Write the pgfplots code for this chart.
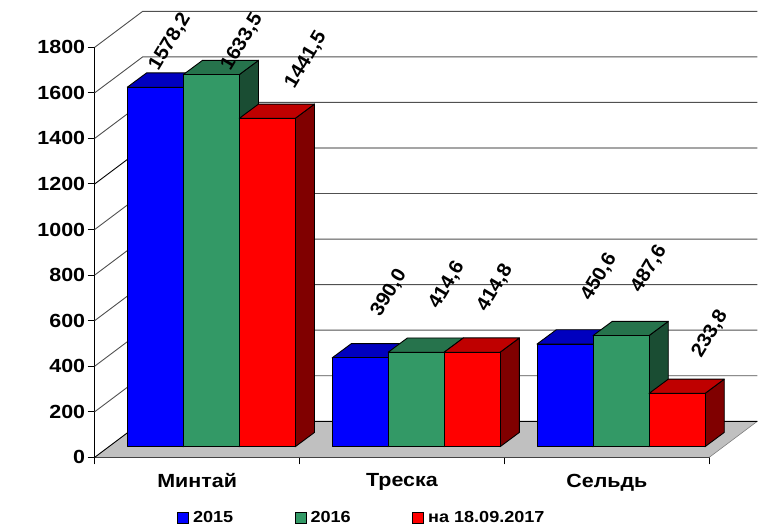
\documentclass[border=0pt]{standalone}
\usepackage{fontspec}
\setmainfont[FakeStretch=1.13]{Liberation Sans}
\newfontfamily\datafont[FakeStretch=1.05]{Liberation Sans}
\usepackage{pgfplots}
\pgfplotsset{compat=1.18}
\definecolor{cBlueF}{HTML}{0000FF}\definecolor{cBlueT}{HTML}{0000BF}\definecolor{cBlueS}{HTML}{000080}
\definecolor{cGreenF}{HTML}{339966}\definecolor{cGreenT}{HTML}{26734C}\definecolor{cGreenS}{HTML}{1A4D33}
\definecolor{cRedF}{HTML}{FF0000}\definecolor{cRedT}{HTML}{BF0000}\definecolor{cRedS}{HTML}{800000}
\definecolor{cFloor}{HTML}{C0C0C0}\definecolor{cGrid}{HTML}{505050}
% #1 left edge (category units), #2 value, #3 colour stem
\newcommand{\threedbar}[3]{%
  \pgfmathsetmacro{\xL}{#1}%
  \pgfmathsetmacro{\xR}{#1+0.2733}%
  \pgfmathsetmacro{\xLb}{\xL+0.0942}%
  \pgfmathsetmacro{\xRb}{\xR+0.0942}%
  \pgfmathsetmacro{\yB}{46.5}%
  \pgfmathsetmacro{\yT}{46.5+#2}%
  \pgfmathsetmacro{\yBb}{\yB+62.8}%
  \pgfmathsetmacro{\yTb}{\yT+62.8}%
  \addplot[forget plot,fill=#3S,draw=black,line width=0.9pt,line join=round] coordinates {(\xR,\yB) (\xRb,\yBb) (\xRb,\yTb) (\xR,\yT)} --cycle;
  \addplot[forget plot,fill=#3T,draw=black,line width=0.9pt,line join=round] coordinates {(\xL,\yT) (\xR,\yT) (\xRb,\yTb) (\xLb,\yTb)} --cycle;
  \addplot[forget plot,fill=#3F,draw=black,line width=0.9pt,line join=round] coordinates {(\xL,\yB) (\xR,\yB) (\xR,\yT) (\xL,\yT)} --cycle;
}
\begin{document}
\begin{tikzpicture}
\path[use as bounding box] (-94.7pt,-68.7pt) rectangle (669.3pt,457.3pt);
\begin{axis}[
  at={(0pt,0pt)},anchor=south west,
  scale only axis,width=614.6pt,height=410pt,
  xmin=0,xmax=3,ymin=0,ymax=1800,clip=false,
  axis x line=bottom,axis y line=left,
  axis line style={-,black,line width=1pt},
  tick align=outside,major tick length=7pt,
  tick style={black,line width=1pt},
  xtick={0,1,2,3},xticklabels={,,,},
  extra x ticks={0.5,1.5,2.5},
  extra x tick labels={Минтай,Треска,Сельдь},
  extra x tick style={major tick length=0pt,
    tick label style={font=\fontsize{19}{21}\selectfont\bfseries,yshift=-13pt}},
  ytick={0,200,400,600,800,1000,1200,1400,1600,1800},
  yticklabel style={font=\fontsize{19}{21}\selectfont\bfseries,xshift=1pt},
  /pgf/number format/assume math mode=true,
  /pgf/number format/1000 sep={},
  legend columns=3,
  legend cell align=left,
  legend style={draw=none,fill=none,at={(0.134,-0.148)},anchor=west,inner xsep=0pt,inner ysep=0pt,
    font=\fontsize{16}{18}\selectfont\bfseries,
    /tikz/every even column/.append style={column sep=57.5pt},
    nodes={inner xsep=4pt}},
]
% floor
\addplot[forget plot,fill=cFloor,draw=none] coordinates {(0,0) (3,0) (3.2343,158) (0.2343,158)} --cycle;
\addplot[forget plot,draw=gray,line width=0.6pt] coordinates {(3,0) (3.2343,158)};
\addplot[forget plot,draw=black,line width=0.9pt] coordinates {(0,0) (0.2343,158) (3.2343,158)};
% walls
\addplot[forget plot,draw=cGrid,line width=0.9pt] coordinates {(0,200) (0.2343,358) (3.2343,358)};
\addplot[forget plot,draw=cGrid,line width=0.9pt] coordinates {(0,400) (0.2343,558) (3.2343,558)};
\addplot[forget plot,draw=cGrid,line width=0.9pt] coordinates {(0,600) (0.2343,758) (3.2343,758)};
\addplot[forget plot,draw=cGrid,line width=0.9pt] coordinates {(0,800) (0.2343,958) (3.2343,958)};
\addplot[forget plot,draw=cGrid,line width=0.9pt] coordinates {(0,1000) (0.2343,1158) (3.2343,1158)};
\addplot[forget plot,draw=black,line width=0.9pt] coordinates {(0,1200) (0.2343,1358) (3.2343,1358)};
\addplot[forget plot,draw=cGrid,line width=0.9pt] coordinates {(0,1400) (0.2343,1558) (3.2343,1558)};
\addplot[forget plot,draw=cGrid,line width=0.9pt] coordinates {(0,1600) (0.2343,1758) (3.2343,1758)};
\addplot[forget plot,draw=cGrid,line width=0.9pt] coordinates {(0,1800) (0.2343,1958) (3.2343,1958)};
% bars
\threedbar{0.159}{1578.2}{cBlue}
\threedbar{0.4323}{1633.5}{cGreen}
\threedbar{0.7056}{1441.5}{cRed}
\threedbar{1.159}{390.0}{cBlue}
\threedbar{1.4323}{414.6}{cGreen}
\threedbar{1.7056}{414.8}{cRed}
\threedbar{2.159}{450.6}{cBlue}
\threedbar{2.4323}{487.6}{cGreen}
\threedbar{2.7056}{233.8}{cRed}
% legend
\addlegendimage{legend image code/.code={\draw[fill=cBlueF,draw=black,line width=0.8pt] (0pt,-5.5pt) rectangle (11pt,5.5pt);}}
\addlegendentry{2015}
\addlegendimage{legend image code/.code={\draw[fill=cGreenF,draw=black,line width=0.8pt] (0pt,-5.5pt) rectangle (11pt,5.5pt);}}
\addlegendentry{2016}
\addlegendimage{legend image code/.code={\draw[fill=cRedF,draw=black,line width=0.8pt] (0pt,-5.5pt) rectangle (11pt,5.5pt);}}
\addlegendentry{на 18.09.2017}
% value labels
\tikzset{vl/.style={rotate=59,anchor=center,inner sep=0pt,font=\fontsize{19.5}{21}\datafont\bfseries}}
\node[vl] at (axis cs:0.3676,1823) {1578,2};
\node[vl] at (axis cs:0.719,1823) {1633,5};
\node[vl] at (axis cs:1.0315,1744) {1441,5};
\node[vl] at (axis cs:1.4365,721) {390,0};
\node[vl] at (axis cs:1.719,756) {414,6};
\node[vl] at (axis cs:1.954,743) {414,8};
\node[vl] at (axis cs:2.4615,791.5) {450,6};
\node[vl] at (axis cs:2.7055,827) {487,6};
\node[vl] at (axis cs:3.0034,541) {233,8};
\end{axis}
\end{tikzpicture}
\end{document}
